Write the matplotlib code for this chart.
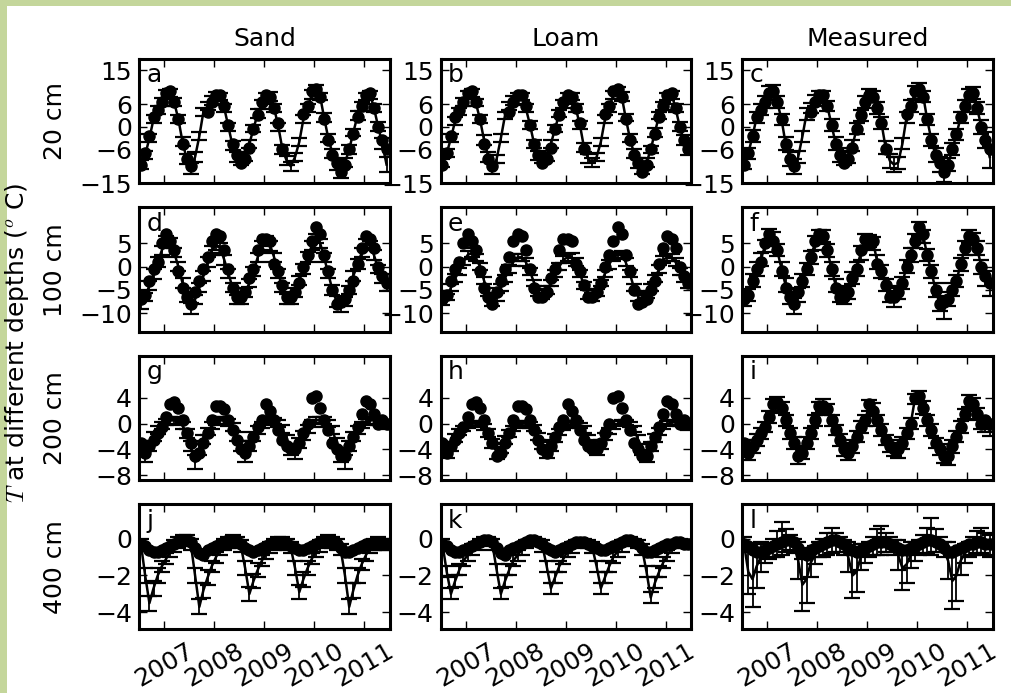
import numpy as np
import pandas as pd
import matplotlib
matplotlib.use('Agg')
import matplotlib.pyplot as plt
import matplotlib.dates as mdates
from matplotlib.patches import Rectangle

plt.rcParams['font.family'] = ['DejaVu Sans']
plt.rcParams['mathtext.fontset'] = 'cm'

# ---------------- data ----------------
months = pd.date_range('2006-07-01', periods=60, freq='MS') + pd.Timedelta(days=14)
years = ['2007', '2008', '2009', '2010', '2011']
columns = ['Sand', 'Loam', 'Measured']
depths = ['20 cm', '100 cm', '200 cm', '400 cm']
letters = ['a', 'b', 'c', 'd', 'e', 'f', 'g', 'h', 'i', 'j', 'k', 'l']
nan = np.nan

# measured point data (dots), shared across columns of a row
dots_20 = [-10, -7, -2.5, 2.5, 4.5, 6.5, 9, 9.5, 6.5, 2, -4.5, -8.5,
           -10.5, nan, nan, nan, 4, 6.5, 8.5, 8.5, 5.5, 0.5, -4.5, -7.5,
           -9.5, -8.5, -5.5, -0.5, 3, 6.5, 8.5, 8, 5, 1, -6, nan,
           nan, nan, nan, 3.5, 5.5, 9.5, 10, 8, 2, -3.5, -7.5, -9.5,
           -12, -10, -6, -2, 2.5, 5.5, 8.5, 9, 5, 0, -3.5, -6]
dots_100 = [-7, -6, -3, -0.5, 1, 5, 7, 5.5, 3.5, -1, -4.5, -6.5,
            -8, -5.5, -3, -0.5, 2, 5.5, 7, 6.5, 3.5, -0.5, -4.5, -6.5,
            -6.5, -5.5, -2.5, -0.5, 3.5, 6, 6, 5.5, 0.5, -1, -4, -6.5,
            -6.5, -5.5, -3.5, 0, 2.5, 5.5, 8.5, 7, 2.5, -1, -5, -8,
            -7.5, -7, -5, -3, 0.5, 4, 6.5, 6, 4, 0, -2, -3.5]
dots_200 = [-3, -4.5, -3.5, -2.5, -1.5, -0.5, 1, 3, 3.3, 2.5, 0.5, -1.5,
            -3, -5, -4.5, -3, -1.5, 0.5, 2.8, 2.8, 2.2, 0.5, -1, -2.5,
            -4, -4.5, -3.5, -2, -0.5, 0.5, 3, 2, 0.5, -1, -2.5, -3.5,
            -4, -4, -3, -1.5, 0, 4, 4.3, 2.5, 0.5, -1, -3, -4,
            -5, -5, -3.5, -2, -0.5, 1.5, 3.5, 3, 1.5, 0, 0.5, 0]
dots_400 = [-0.3, -0.4, -0.6, -0.7, -0.7, -0.6, -0.5, -0.4, -0.3, -0.2, -0.1, -0.1,
            -0.2, -0.5, -0.8, -0.9, -0.6, -0.5, -0.4, -0.3, -0.2, -0.1, -0.1, -0.2,
            -0.3, -0.5, -0.6, -0.7, -0.6, -0.5, -0.4, -0.3, -0.2, -0.2, -0.2, -0.3,
            -0.4, -0.5, -0.6, -0.6, -0.5, -0.4, -0.3, -0.2, -0.1, -0.1, -0.2, -0.3,
            -0.5, -0.7, -0.7, -0.6, -0.5, -0.4, -0.3, -0.3, -0.2, -0.2, -0.3, -0.3]

# line series with error bars: sand model
sand_20 = [-10, -7.5, -3, 2, 4.5, 6.5, 8.5, 9, 6.5, 2, -4, -8.5,
           -11, -8, -2.5, 4, 5.5, 7, 8, 8, 5, 0, -5, -8,
           -9, -8, -4.5, -0.5, 3.5, 6, 8, 8, 5, 0, -6, -9,
           -10.5, -8, -4, 2, 5, 8.5, 10, 8, 2.5, -3, -7, -10,
           -12, -9.5, -6, -1.5, 3, 5.5, 8, 8.5, 5, 0, -4.5, -10]
sand_100 = [-8, -6.5, -4, -1.5, 1, 3.5, 5.5, 5, 3, 0, -3.5, -6.5,
            -9, -7, -4.5, -2, 1, 3.5, 4.5, 4, 1.5, -1.5, -4.5, -7,
            -7, -5.5, -3.5, -1, 2, 4.5, 5.5, 4.5, 2, -1.5, -4.5, -7,
            -7, -5.5, -3, -0.5, 2, 4.5, 6, 5, 2, -1.5, -5, -7.5,
            -8.5, -7.5, -5, -2, 0.5, 3, 5, 4.5, 2.5, -0.5, -2.5, -4]
sand_200 = [-3.5, -5, -3.5, -2, -1, -0.3, 0.3, 0.5, 0.5, 0.3, -0.3, -1.5,
            -3.5, -6, -4, -2.5, -1.2, -0.3, 0.3, 0.5, 0.5, 0.2, -0.5, -2,
            -3.5, -5, -3.5, -2, -1, -0.2, 0.3, 0.5, 0.4, 0, -0.8, -2.5,
            -4, -4.5, -3, -1.8, -0.8, 0, 0.5, 0.6, 0.5, 0, -1, -3,
            -5, -6, -3.5, -2, -1, -0.2, 0.3, 0.5, 0.5, 0.3, 0, -0.3]
sand_400 = [-0.3, -2.0, -3.5, -2.7, -2.0, -1.5, -1.1, -0.7, -0.4, -0.2, -0.1, -0.1,
            -0.3, -2.0, -3.7, -2.8, -2.1, -1.5, -1.0, -0.6, -0.3, -0.2, -0.1, -0.2,
            -0.4, -1.6, -3.0, -2.3, -1.7, -1.2, -0.8, -0.5, -0.3, -0.2, -0.2, -0.3,
            -0.5, -1.6, -2.9, -2.2, -1.6, -1.1, -0.7, -0.4, -0.2, -0.1, -0.2, -0.3,
            -0.6, -2.0, -3.7, -2.8, -2.0, -1.4, -0.9, -0.5, -0.3, -0.2, -0.3, -0.3]

# loam model
loam_20 = [-9.5, -7, -3, 1.5, 4, 6.5, 8.5, 9, 6.5, 2, -3.5, -8,
           -11, -8.5, -3, 3, 5.5, 7, 8, 8, 5, 0.5, -4.5, -7.5,
           -8.5, -8, -4.5, -0.5, 3.5, 6, 8, 8, 5, 0.5, -5.5, -8.5,
           -9.5, -8, -4, 2, 5, 8.5, 9.5, 8, 2.5, -3, -7, -9.5,
           -11, -9.5, -6, -1.5, 3, 5.5, 8, 8.5, 5, 0, -3.5, -6]
loam_100 = [-7.5, -6.5, -4.5, -2.5, -1, 1, 2.5, 3, 2, 0, -3, -5.5,
            -7.5, -6.5, -4.5, -2.5, -0.5, 1, 2, 2, 1, -1, -3.5, -5.5,
            -6, -5, -3.5, -1.5, 0, 1.5, 2, 2, 1, -1.5, -4, -6,
            -6.5, -5.5, -3.5, -1.5, 0.5, 2, 2.5, 2.5, 1, -1.5, -4.5, -6.5,
            -7, -6, -4.5, -2.5, -0.5, 1.5, 2, 2, 1, -1, -2.5, -3.5]
loam_200 = [-3.5, -4.5, -3.5, -2.2, -1.3, -0.7, -0.3, 0, 0, -0.1, -0.5, -1.5,
            -3, -4.5, -3.8, -2.5, -1.5, -0.8, -0.3, 0, 0, -0.2, -0.7, -2,
            -3.2, -4.5, -3.5, -2.2, -1.3, -0.6, -0.2, 0, 0, -0.3, -0.9, -2.3,
            -3.3, -4, -3.2, -2, -1.1, -0.5, 0, 0.2, 0.2, -0.1, -0.8, -2.5,
            -4, -5, -3.5, -2.2, -1.2, -0.5, 0, 0.2, 0.2, 0, -0.2, -0.5]
loam_400 = [-0.3, -1.8, -3.0, -2.3, -1.7, -1.2, -0.9, -0.6, -0.4, -0.2, -0.1, -0.1,
            -0.3, -1.7, -3.0, -2.3, -1.7, -1.2, -0.9, -0.6, -0.3, -0.2, -0.1, -0.2,
            -0.4, -1.5, -2.7, -2.1, -1.5, -1.1, -0.7, -0.5, -0.3, -0.2, -0.2, -0.3,
            -0.5, -1.5, -2.7, -2.1, -1.5, -1.0, -0.7, -0.4, -0.2, -0.1, -0.2, -0.3,
            -0.6, -1.8, -3.2, -2.4, -1.8, -1.3, -0.9, -0.5, -0.3, -0.2, -0.3, -0.3]

# measured mean
meas_20 = [-9.5, -7, -2.5, 2.5, 4.5, 6.5, 9, 9.5, 6.5, 2, -4.5, -8.5,
           -10.5, -8, -2.5, 3.5, 5, 7, 8, 8, 5.5, 0.5, -4.5, -7.5,
           -8.5, -8, -5, -0.5, 3, 6.5, 8.5, 8, 5, 1, -5.5, -9,
           -10, -9.5, -4.5, 2.5, 5.5, 9, 10, 8, 2, -3.5, -7.5, -10,
           -12.5, -10, -6, -2, 2.5, 5.5, 8.5, 9, 5, 0, -3.5, -8]
meas_100 = [-7, -6, -3, -0.5, 1.5, 4.5, 6.5, 6, 3.5, -0.5, -4, -6.5,
            -8.5, -6, -3, -0.5, 2, 5, 6.5, 6.5, 3.5, -0.5, -4, -6,
            -6.5, -5.5, -2.5, -0.5, 3, 5.5, 5.5, 5, 1, -1, -4, -6,
            -7, -5.5, -3.5, 0, 2.5, 5.5, 8, 6.5, 2.5, -1, -5, -8,
            -9.5, -7, -5, -3, 0.5, 4, 6.5, 6, 4, 0, -2.5, -4.5]
meas_200 = [-3.5, -4.5, -3.5, -2.5, -1.5, -0.5, 1, 2.8, 3.3, 2.5, 0.5, -1.5,
            -3, -5, -4.5, -3, -1.5, 0.5, 2.5, 2.8, 2.2, 0.5, -1, -2.5,
            -4, -4.5, -3.5, -2, -0.5, 0.5, 2.8, 2.2, 0.5, -1, -2.5, -3.5,
            -4, -4.2, -3, -1.5, 0, 3.8, 4.2, 2.5, 0.5, -1, -3, -4,
            -5, -5.2, -3.5, -2, -0.5, 1.5, 3.5, 3, 1.5, 0, -0.5, -1]
meas_400 = [-0.3, -1.8, -2.2, -1.5, -1.0, -0.8, -0.7, -0.5, -0.3, 0.0, -0.1, -0.2,
            -0.4, -1.2, -2.5, -2.2, -1.3, -0.9, -0.6, -0.5, -0.3, -0.1, -0.2, -0.3,
            -0.5, -1.0, -2.0, -1.8, -1.0, -0.8, -0.6, -0.4, -0.2, -0.1, -0.2, -0.3,
            -0.5, -0.9, -1.6, -1.4, -0.9, -0.7, -0.5, -0.3, -0.1, 0.1, -0.1, -0.3,
            -0.6, -1.2, -2.3, -2.0, -1.2, -0.8, -0.6, -0.4, -0.2, -0.1, -0.3, -0.4]

# error bar half-widths
err_sand_20 = [1.2, 1.0, 1.1, 1.0, 1.0, 1.1, 1.2, 1.0, 1.1, 1.0, 1.2, 1.3,
               1.5, 1.2, 1.0, 1.1, 1.0, 1.2, 1.1, 1.0, 1.0, 1.1, 1.2, 1.3,
               1.2, 1.1, 1.0, 1.0, 1.1, 1.2, 1.0, 1.1, 1.0, 1.1, 1.2, 1.2,
               1.3, 1.1, 1.0, 1.1, 1.0, 1.2, 1.1, 1.0, 1.1, 1.0, 1.2, 1.4,
               1.6, 1.2, 1.1, 1.0, 1.1, 1.2, 1.0, 1.1, 1.0, 1.2, 1.5, 2.0]
err_loam_20 = [1.1, 1.0, 1.0, 1.1, 1.0, 1.1, 1.1, 1.0, 1.0, 1.1, 1.2, 1.2,
               1.4, 1.1, 1.0, 1.0, 1.1, 1.1, 1.0, 1.0, 1.1, 1.0, 1.1, 1.2,
               1.2, 1.0, 1.1, 1.0, 1.0, 1.1, 1.0, 1.0, 1.1, 1.0, 1.1, 1.2,
               1.2, 1.1, 1.0, 1.0, 1.1, 1.1, 1.0, 1.1, 1.0, 1.1, 1.2, 1.3,
               1.5, 1.2, 1.0, 1.1, 1.0, 1.1, 1.0, 1.0, 1.1, 1.2, 1.3, 1.6]
err_meas_20 = [1.8, 1.5, 1.6, 1.4, 1.5, 1.6, 1.8, 1.5, 1.6, 1.5, 1.7, 1.9,
               2.0, 1.6, 1.5, 1.6, 1.4, 1.5, 1.6, 1.5, 1.4, 1.6, 1.7, 1.8,
               1.7, 1.6, 1.5, 1.4, 1.5, 1.6, 1.5, 1.4, 1.6, 1.5, 1.7, 1.8,
               1.9, 1.6, 1.5, 1.4, 1.6, 1.7, 1.6, 1.5, 1.4, 1.6, 1.8, 2.0,
               2.2, 1.8, 1.6, 1.5, 1.4, 1.6, 1.5, 1.6, 1.5, 1.8, 2.2, 3.0]
err_sand_100 = [1.0, 0.9, 1.0, 1.1, 1.0, 0.9, 1.0, 1.1, 1.0, 0.9, 1.0, 1.1,
                1.2, 1.0, 0.9, 1.0, 1.1, 1.0, 0.9, 1.0, 1.1, 1.0, 0.9, 1.0,
                1.1, 1.0, 0.9, 1.0, 1.0, 0.9, 1.0, 1.1, 1.0, 0.9, 1.0, 1.1,
                1.1, 1.0, 0.9, 1.0, 1.1, 1.0, 0.9, 1.0, 1.0, 0.9, 1.0, 1.1,
                1.2, 1.0, 0.9, 1.0, 1.1, 1.0, 0.9, 1.0, 1.0, 0.9, 1.0, 1.2]
err_loam_100 = [0.8, 0.7, 0.8, 0.9, 0.8, 0.7, 0.8, 0.9, 0.8, 0.7, 0.8, 0.9,
                1.0, 0.8, 0.7, 0.8, 0.9, 0.8, 0.7, 0.8, 0.9, 0.8, 0.7, 0.8,
                0.9, 0.8, 0.7, 0.8, 0.8, 0.7, 0.8, 0.9, 0.8, 0.7, 0.8, 0.9,
                0.9, 0.8, 0.7, 0.8, 0.9, 0.8, 0.7, 0.8, 0.8, 0.7, 0.8, 0.9,
                1.0, 0.8, 0.7, 0.8, 0.9, 0.8, 0.7, 0.8, 0.8, 0.7, 0.8, 1.0]
err_meas_100 = [1.5, 1.3, 1.4, 1.5, 1.4, 1.3, 1.5, 1.4, 1.3, 1.4, 1.5, 1.6,
                1.7, 1.5, 1.4, 1.3, 1.4, 1.5, 1.4, 1.3, 1.4, 1.5, 1.4, 1.5,
                1.5, 1.4, 1.3, 1.4, 1.5, 1.4, 1.3, 1.4, 1.5, 1.4, 1.3, 1.5,
                1.6, 1.4, 1.3, 1.4, 1.5, 1.4, 1.5, 1.4, 1.3, 1.4, 1.5, 1.6,
                1.8, 1.5, 1.4, 1.3, 1.4, 1.5, 1.4, 1.3, 1.4, 1.5, 1.6, 1.8]
err_sand_200 = [0.8, 1.0, 0.8, 0.7, 0.6, 0.5, 0.5, 0.5, 0.5, 0.5, 0.6, 0.7,
                0.8, 1.1, 0.9, 0.7, 0.6, 0.5, 0.5, 0.5, 0.5, 0.5, 0.6, 0.7,
                0.8, 1.0, 0.8, 0.7, 0.6, 0.5, 0.5, 0.5, 0.5, 0.5, 0.6, 0.7,
                0.8, 0.9, 0.8, 0.7, 0.6, 0.5, 0.5, 0.5, 0.5, 0.5, 0.6, 0.8,
                0.9, 1.1, 0.8, 0.7, 0.6, 0.5, 0.5, 0.5, 0.5, 0.5, 0.6, 0.6]
err_loam_200 = [0.7, 0.8, 0.7, 0.6, 0.5, 0.4, 0.4, 0.4, 0.4, 0.4, 0.5, 0.6,
                0.7, 0.9, 0.8, 0.6, 0.5, 0.4, 0.4, 0.4, 0.4, 0.4, 0.5, 0.6,
                0.7, 0.8, 0.7, 0.6, 0.5, 0.4, 0.4, 0.4, 0.4, 0.4, 0.5, 0.6,
                0.7, 0.8, 0.7, 0.6, 0.5, 0.4, 0.4, 0.4, 0.4, 0.4, 0.5, 0.7,
                0.8, 0.9, 0.7, 0.6, 0.5, 0.4, 0.4, 0.4, 0.4, 0.4, 0.5, 0.5]
err_meas_200 = [1.0, 1.1, 1.0, 0.9, 0.9, 0.8, 0.9, 1.0, 0.9, 0.9, 0.8, 0.9,
                1.0, 1.2, 1.0, 0.9, 0.9, 0.8, 0.9, 1.0, 0.9, 0.9, 0.8, 0.9,
                1.0, 1.1, 1.0, 0.9, 0.9, 0.8, 0.9, 1.0, 0.9, 0.9, 0.8, 0.9,
                1.0, 1.1, 1.0, 0.9, 0.9, 0.8, 0.9, 1.0, 0.9, 0.9, 0.8, 0.9,
                1.1, 1.2, 1.0, 0.9, 0.9, 0.8, 0.9, 1.0, 0.9, 0.9, 0.8, 0.9]
err_sand_400 = [0.3, 0.4, 0.4, 0.4, 0.4, 0.3, 0.3, 0.3, 0.3, 0.3, 0.3, 0.3,
                0.3, 0.4, 0.4, 0.4, 0.4, 0.3, 0.3, 0.3, 0.3, 0.3, 0.3, 0.3,
                0.3, 0.4, 0.4, 0.4, 0.4, 0.3, 0.3, 0.3, 0.3, 0.3, 0.3, 0.3,
                0.3, 0.4, 0.4, 0.4, 0.4, 0.3, 0.3, 0.3, 0.3, 0.3, 0.3, 0.3,
                0.3, 0.4, 0.4, 0.4, 0.4, 0.3, 0.3, 0.3, 0.3, 0.3, 0.3, 0.3]
err_loam_400 = [0.3, 0.3, 0.3, 0.3, 0.3, 0.3, 0.3, 0.3, 0.2, 0.2, 0.2, 0.2,
                0.3, 0.3, 0.3, 0.3, 0.3, 0.3, 0.3, 0.3, 0.2, 0.2, 0.2, 0.2,
                0.3, 0.3, 0.3, 0.3, 0.3, 0.3, 0.3, 0.3, 0.2, 0.2, 0.2, 0.2,
                0.3, 0.3, 0.3, 0.3, 0.3, 0.3, 0.3, 0.3, 0.2, 0.2, 0.2, 0.2,
                0.3, 0.3, 0.3, 0.3, 0.3, 0.3, 0.3, 0.3, 0.2, 0.2, 0.2, 0.2]
err_meas_400 = [0.4, 1.2, 1.5, 1.2, 0.8, 0.5, 0.4, 0.5, 0.7, 0.9, 0.6, 0.4,
                0.4, 1.0, 1.4, 1.3, 0.8, 0.5, 0.4, 0.5, 0.6, 0.7, 0.5, 0.4,
                0.4, 0.8, 1.2, 1.1, 0.7, 0.5, 0.4, 0.5, 0.7, 0.8, 0.5, 0.4,
                0.4, 0.8, 1.2, 1.0, 0.7, 0.5, 0.4, 0.5, 0.7, 1.0, 0.6, 0.4,
                0.4, 1.0, 1.5, 1.4, 0.8, 0.5, 0.4, 0.5, 0.6, 0.7, 0.6, 0.6]

yticks_rows = [[-15, -6, 0, 6, 15], [-10, -5, 0, 5], [-8, -4, 0, 4], [-4, -2, 0]]
ylims_rows = [(-15, 18), (-14, 12.7), (-8.8, 10.5), (-4.9, 1.85)]

dots_rows = [dots_20, dots_100, dots_200, dots_400]
lines = [[sand_20, loam_20, meas_20],
         [sand_100, loam_100, meas_100],
         [sand_200, loam_200, meas_200],
         [sand_400, loam_400, meas_400]]
errs = [[err_sand_20, err_loam_20, err_meas_20],
        [err_sand_100, err_loam_100, err_meas_100],
        [err_sand_200, err_loam_200, err_meas_200],
        [err_sand_400, err_loam_400, err_meas_400]]

# ---------------- figure ----------------
W, H = 1011, 693
fig, axes = plt.subplots(4, 3, figsize=(W / 100, H / 100), dpi=100)
fig.subplots_adjust(left=0.1375, right=0.982, top=0.915, bottom=0.0924,
                    wspace=0.203, hspace=0.193)

green = '#c4d69b'
fig.patches.append(Rectangle((0, 0), 7 / W, 1, transform=fig.transFigure,
                             facecolor=green, edgecolor='none', zorder=-10))
fig.patches.append(Rectangle((0, 1 - 6 / H), 1, 6 / H, transform=fig.transFigure,
                             facecolor=green, edgecolor='none', zorder=-10))

x = mdates.date2num(months)
xticks = [mdates.date2num(pd.Timestamp(y + '-01-01')) for y in years]
xmin = mdates.date2num(pd.Timestamp('2006-07-01'))
xmax = mdates.date2num(pd.Timestamp('2011-07-08'))

FS = 18
for r in range(4):
    for c in range(3):
        ax = axes[r, c]
        ax.errorbar(x, lines[r][c], yerr=errs[r][c], color='k', lw=1.8,
                    elinewidth=1.3, capsize=5.5, capthick=1.6, zorder=2)
        ax.plot(x, dots_rows[r], 'o', color='k', ms=8, zorder=3)
        ax.set_xlim(xmin, xmax)
        ax.set_ylim(*ylims_rows[r])
        ax.set_yticks(yticks_rows[r])
        ax.set_xticks(xticks)
        if r == 3:
            ax.set_xticklabels(years, rotation=30, ha='center')
        else:
            ax.set_xticklabels([])
        ax.tick_params(direction='in', top=True, right=True, length=6,
                       width=1, labelsize=FS)
        ax.tick_params(axis='y', pad=5)
        ax.tick_params(axis='x', pad=7)
        for s in ax.spines.values():
            s.set_linewidth(2.2)
        ax.text(0.03, 0.965, letters[r * 3 + c], transform=ax.transAxes,
                ha='left', va='top', fontsize=FS)
        if r == 0:
            ax.set_title(columns[c], fontsize=FS, pad=9)
        if c == 0:
            ax.set_ylabel(depths[r], fontsize=FS)
            ax.yaxis.set_label_coords(-0.287, 0.5)

fig.text(0.017, 0.505, r'$T$ at different depths ($^o$ C)', rotation=90,
         ha='center', va='center', fontsize=FS)

fig.savefig('out.png', dpi=100)
